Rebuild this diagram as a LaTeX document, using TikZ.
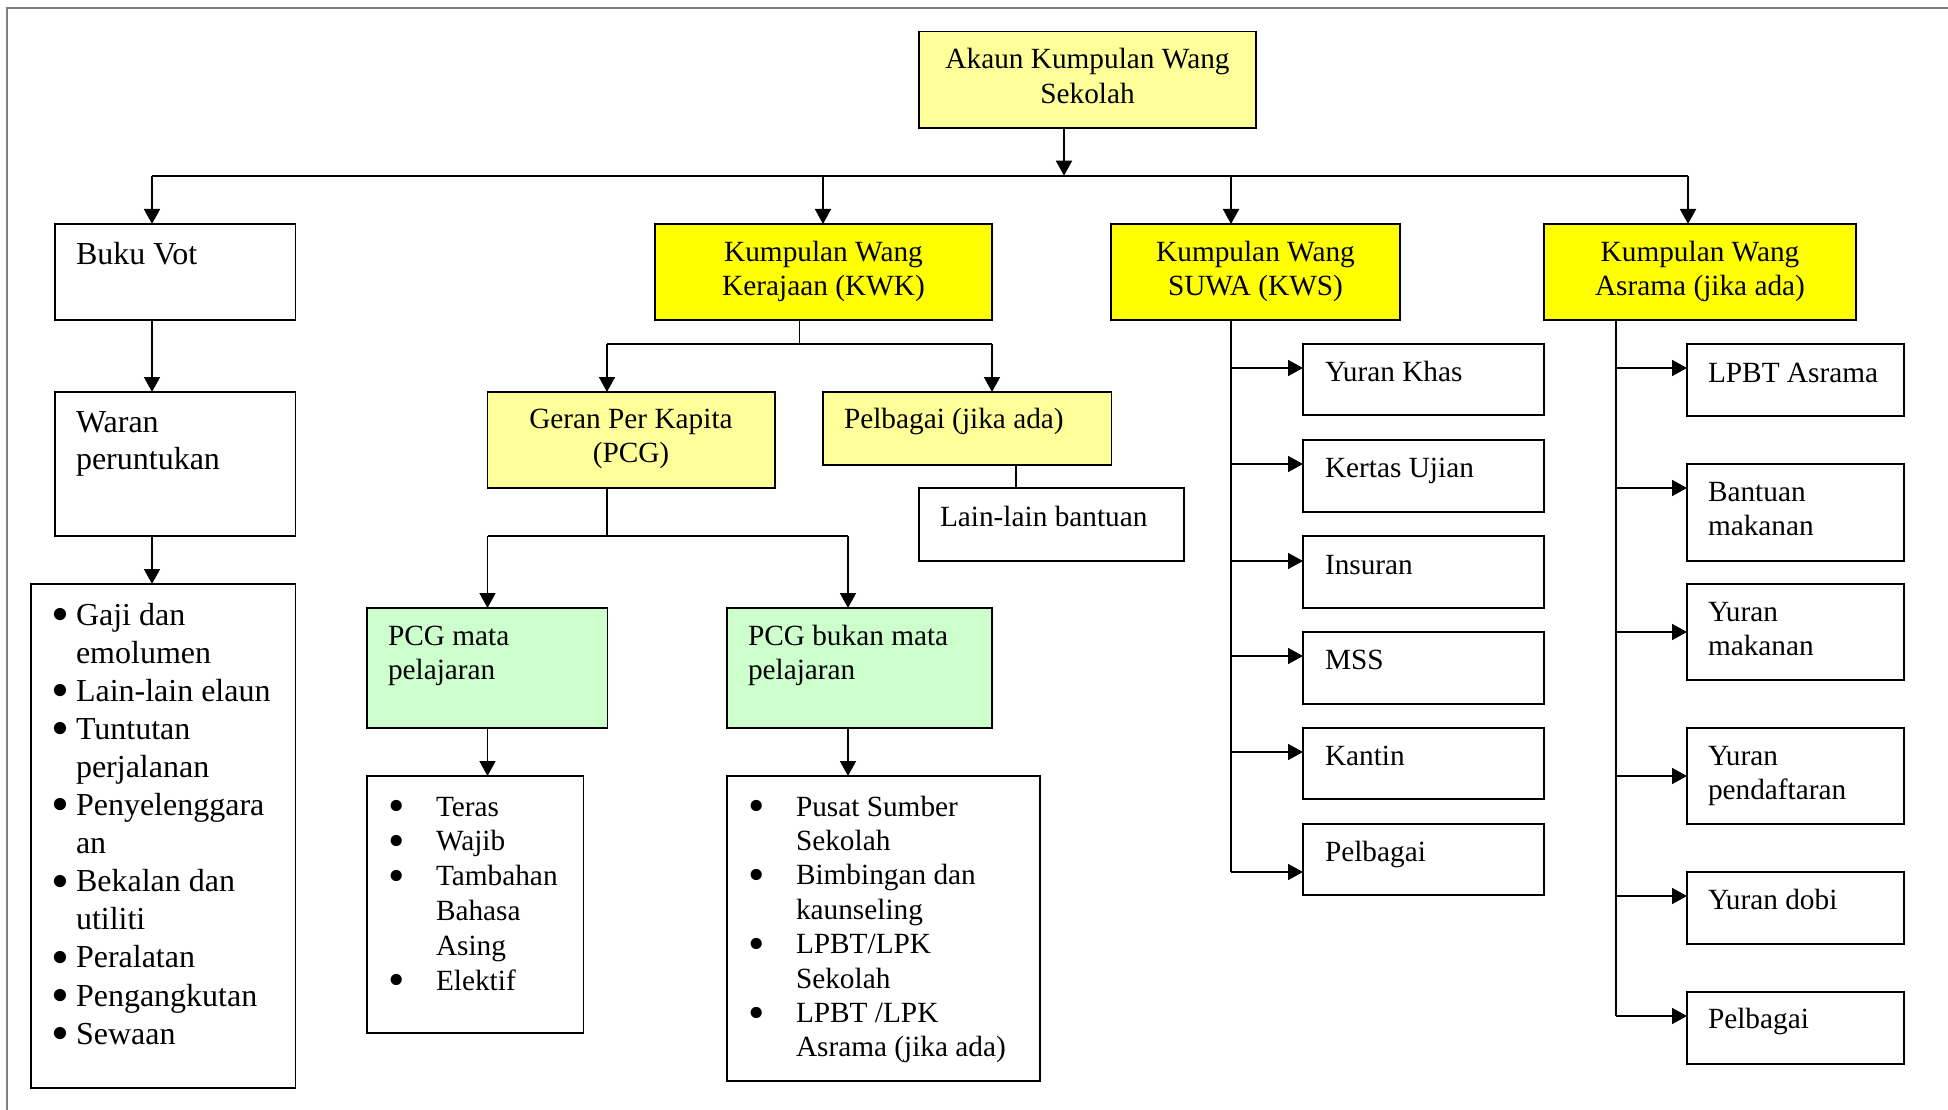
\documentclass[tikz,border=0pt]{standalone}
\usepackage{fontspec}
\setmainfont{Liberation Serif}
\usetikzlibrary{arrows.meta}
\definecolor{ltyel}{HTML}{FFFF99}
\definecolor{bryel}{HTML}{FFFF00}
\definecolor{ltgrn}{HTML}{CCFFCC}
\newcommand\mkbox[6]{\node[boxst,#6,anchor=north west,minimum width={(#4)-(#2)},minimum height={(#5)-(#3)}] (#1) at (#2,-#3) {};}
\newcommand\ltxt[6]{\node[txst,anchor=base west,font={\fontsize{29.3}{#5}\selectfont}] (#1) at (#2,-#3) {\parbox[t]{#4pt}{\raggedright #6}};}
\newcommand\btxt[6]{\node[txst,anchor=base west,font={\fontsize{32}{#5}\selectfont}] (#1) at (#2,-#3) {\parbox[t]{#4pt}{\raggedright #6}};}
\newcommand\ctxt[6]{\node[txst,anchor=base,font={\fontsize{29.3}{#5}\selectfont}] (#1) at (#2,-#3) {\parbox[t]{#4pt}{\centering #6}};}
\newcommand\bigbul{\smash{\raisebox{-0.2em}{\scalebox{1.6}{\textbullet}}}}
\newcommand\bulA{\makebox[25pt][l]{\bigbul}}
\newcommand\indA{\hspace*{25pt}}
\newcommand\bulB{\makebox[48pt][l]{\bigbul}}
\newcommand\indB{\hspace*{48pt}}
\begin{document}
\begin{tikzpicture}[x=1pt,y=1pt,
  boxst/.style={draw=black,line width=1.7pt,inner sep=0pt,outer sep=0pt,fill=white},
  txst/.style={inner sep=0pt,outer sep=0pt},
  ly/.style={fill=ltyel},
  by/.style={fill=bryel},
  lg/.style={fill=ltgrn},
  ln/.style={line width=1.8pt},
  thinln/.style={line width=1.3pt},
  arr/.style={line width=1.8pt,-{Triangle[length=15pt,width=16pt]}}]
\useasboundingbox (0,0) rectangle (1948,-1110);
\fill[white] (0,0) rectangle (1948,-1110);
\draw[gray,line width=1.2pt] (7,-1110) -- (7,-8) -- (1948,-8);

% boxes
\mkbox{ak}{919}{31.4}{1256}{128}{ly}
\mkbox{bv}{55}{224}{295.5}{320}{}
\mkbox{kwk}{655}{224}{992}{320}{by}
\mkbox{kws}{1111}{224}{1400}{320}{by}
\mkbox{asr}{1544}{224}{1856}{320}{by}
\mkbox{wr}{55}{392}{295.5}{536}{}
\mkbox{gl}{31}{584}{295.5}{1088}{}
\mkbox{ger}{487.5}{392}{775}{488}{ly}
\mkbox{pel}{823}{392}{1111.6}{465}{ly}
\mkbox{lain}{919}{488}{1184}{561}{}
\mkbox{pm}{367}{608}{607.6}{728}{lg}
\mkbox{pb}{727}{608}{992}{728}{lg}
\mkbox{ter}{367}{776}{583.5}{1033}{}
\mkbox{pus}{727}{776}{1040}{1081}{}
\mkbox{yk}{1303}{344}{1544}{415}{}
\mkbox{ku}{1303}{440}{1544}{512}{}
\mkbox{ins}{1303}{536}{1544}{608}{}
\mkbox{mss}{1303}{632}{1544}{704}{}
\mkbox{kan}{1303}{728}{1544}{799}{}
\mkbox{pk}{1303}{824}{1544}{895}{}
\mkbox{lp}{1687}{344}{1904}{416}{}
\mkbox{bm}{1687}{464}{1904}{561}{}
\mkbox{ym}{1687}{584}{1904}{680}{}
\mkbox{yp}{1687}{728}{1904}{824}{}
\mkbox{yd}{1687}{872}{1904}{944}{}
\mkbox{pa}{1687}{992}{1904}{1064}{}

% texts
\ctxt{tak}{1087.5}{68.6}{330}{35}{Akaun Kumpulan Wang\\Sekolah}
\btxt{tbv}{76}{264.3}{210}{37}{Buku Vot}
\ctxt{tkwk}{823.5}{261.8}{330}{34}{Kumpulan Wang\\Kerajaan (KWK)}
\ctxt{tkws}{1255.5}{261.8}{285}{34}{Kumpulan Wang\\SUWA (KWS)}
\ctxt{tasr}{1700}{261.8}{305}{34}{Kumpulan Wang\\Asrama (jika ada)}
\btxt{twr}{76}{432}{210}{37.5}{Waran\\peruntukan}
\ctxt{tger}{631}{428.6}{285}{34}{Geran Per Kapita\\(PCG)}
\ltxt{tpel}{844}{428.6}{260}{34}{Pelbagai (jika ada)}
\ltxt{tlain}{940}{526.8}{240}{34}{Lain-lain bantuan}
\ltxt{tpm}{388}{645.7}{215}{34}{PCG mata\\pelajaran}
\ltxt{tpb}{748}{645.7}{240}{34}{PCG bukan mata\\pelajaran}
\btxt{tgl}{51}{625}{245}{38.1}{\bulA Gaji dan\\ \indA emolumen\\ \bulA Lain-lain elaun\\ \bulA Tuntutan\\ \indA perjalanan\\ \bulA Penyelenggara\\ \indA an\\ \bulA Bekalan dan\\ \indA utiliti\\ \bulA Peralatan\\ \bulA Pengangkutan\\ \bulA Sewaan}
\ltxt{tter}{388}{816}{195}{34.8}{\bulB Teras\\ \bulB Wajib\\ \bulB Tambahan\\ \indB Bahasa\\ \indB Asing\\ \bulB Elektif}
\ltxt{tpus}{748}{816}{290}{34.4}{\bulB Pusat Sumber\\ \indB Sekolah\\ \bulB Bimbingan dan\\ \indB kaunseling\\ \bulB LPBT/LPK\\ \indB Sekolah\\ \bulB LPBT /LPK\\ \indB Asrama (jika ada)}
\ltxt{tyk}{1325}{381.4}{215}{34}{Yuran Khas}
\ltxt{tku}{1325}{477.5}{215}{34}{Kertas Ujian}
\ltxt{tins}{1325}{574.3}{215}{34}{Insuran}
\ltxt{tmss}{1325}{669}{215}{34}{MSS}
\ltxt{tkan}{1325}{765}{215}{34}{Kantin}
\ltxt{tpk}{1325}{861.4}{215}{34}{Pelbagai}
\ltxt{tlp}{1708}{382}{195}{34}{LPBT Asrama}
\ltxt{tbm}{1708}{501.8}{195}{34}{Bantuan\\makanan}
\ltxt{tym}{1708}{621.4}{195}{34}{Yuran\\makanan}
\ltxt{typ}{1708}{765.4}{195}{34}{Yuran\\pendaftaran}
\ltxt{tyd}{1708}{909}{195}{34}{Yuran dobi}
\ltxt{tpa}{1708}{1028.6}{195}{34}{Pelbagai}

% main bus
\coordinate (busL) at (152,-175.7);
\coordinate (busR) at (1688,-175.7);
\coordinate (busA) at (1064,-175.7);
\coordinate (busK) at (823,-175.7);
\coordinate (busS) at (1231,-175.7);
\draw[ln] (busL) -- (busR);
\draw[arr] (busA |- ak.south) -- (busA);
\draw[arr] (busL) -- (busL |- bv.north);
\draw[arr] (busK) -- (busK |- kwk.north);
\draw[arr] (busS) -- (busS |- kws.north);
\draw[arr] (busR) -- (busR |- asr.north);
\draw[arr] (busL |- bv.south) -- (busL |- wr.north);
\draw[arr] (busL |- wr.south) -- (busL |- gl.north);

% KWK branch
\coordinate (kj) at (799.5,-344);
\coordinate (kL) at (607,-344);
\coordinate (kR) at (992,-344);
\draw[thinln] (kj |- kwk.south) -- (kj);
\draw[ln] (kL) -- (kR);
\draw[arr] (kL) -- (kL |- ger.north);
\draw[arr] (kR) -- (kR |- pel.north);
\coordinate (pj) at (1016,-465);
\draw[thinln] (pj |- pel.south) -- (pj |- lain.north);
\coordinate (gL) at (487.5,-536);
\coordinate (gR) at (848,-536);
\draw[thinln] (kL |- ger.south) -- (kL |- gL);
\draw[ln] (gL) -- (gR);
\draw[arr] (gL) -- (gL |- pm.north);
\draw[arr] (gR) -- (gR |- pb.north);
\draw[arr] (gL |- pm.south) -- (gL |- ter.north);
\draw[arr] (gR |- pb.south) -- (gR |- pus.north);

% KWS branch
\coordinate (sB) at (1231,-872);
\draw[ln] (busS |- kws.south) -- (sB);
\foreach \n/\y in {yk/368,ku/464,ins/561,mss/656,kan/752,pk/872}
  \draw[arr] (busS |- 0,-\y) -- (\n.west |- 0,-\y);

% Asrama branch
\coordinate (aj) at (1615.7,-1016);
\draw[ln] (aj |- asr.south) -- (aj);
\foreach \n/\y in {lp/368,bm/488,ym/632,yp/776,yd/896,pa/1016}
  \draw[arr] (aj |- 0,-\y) -- (\n.west |- 0,-\y);
\end{tikzpicture}
\end{document}
